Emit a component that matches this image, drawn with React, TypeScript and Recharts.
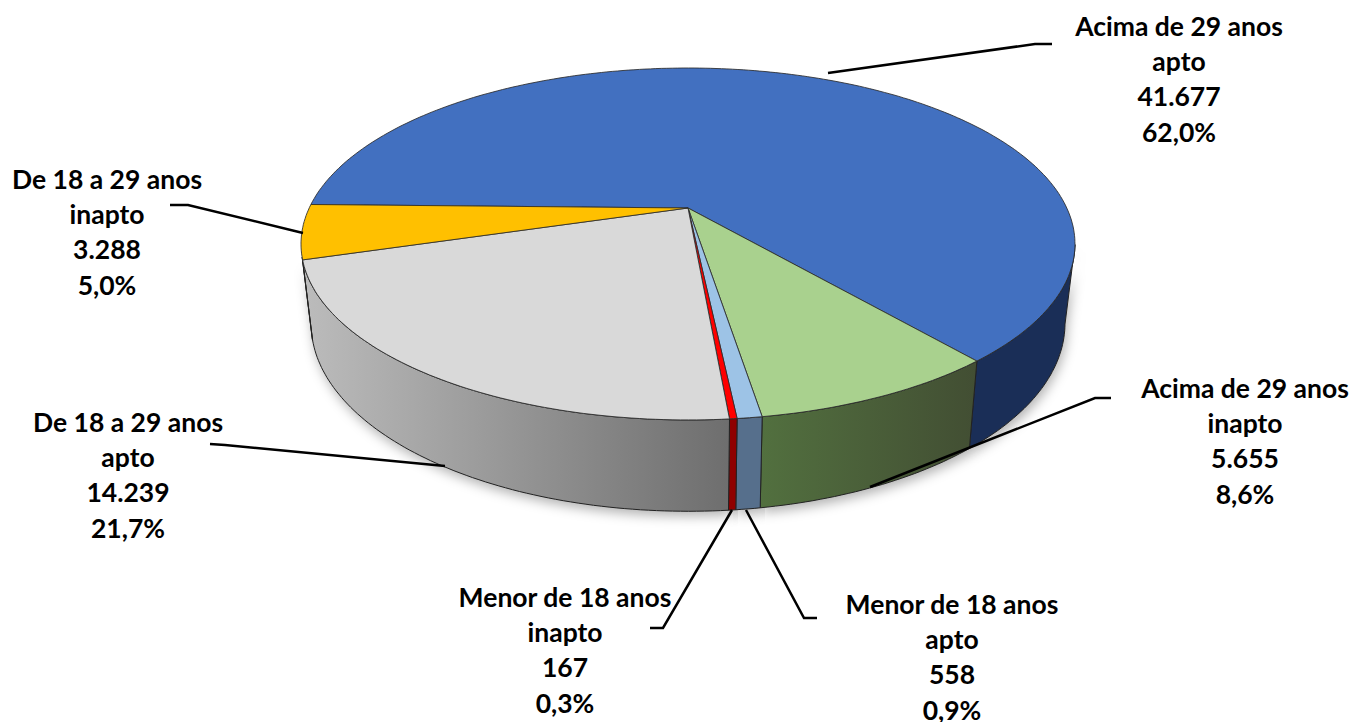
import { Pie, PieChart } from "recharts";

const categories = [
  "Acima de 29 anos",
  "Acima de 29 anos",
  "Menor de 18 anos",
  "Menor de 18 anos",
  "De 18 a 29 anos",
  "De 18 a 29 anos",
];
const statuses = ["apto", "inapto", "apto", "inapto", "apto", "inapto"];
const counts = [41677, 5655, 558, 167, 14239, 3288];
const percentLabels = ["62,0%", "8,6%", "0,9%", "0,3%", "21,7%", "5,0%"];

const topColors = ["#4270c0", "#a9d18e", "#9dc3e6", "#ff0000", "#d9d9d9", "#ffc000"];
const wallFrom = ["#1a2e57", "#52703f", "#566f8c", "#8f0000", "#bcbcbc", "#8a6a00"];
const wallTo = ["#1a2e57", "#424e33", "#566f8c", "#8f0000", "#6e6e6e", "#8a6a00"];

// where each label block sits, and its elbow leader line
const labelCenters = [
  [1179, 26],
  [1245, 388],
  [952, 604],
  [565, 597],
  [128, 422],
  [107, 179],
];
const leaderLines = [
  "828,73 1035,44 1052,44",
  "870,487 1095,398 1111,398",
  "746,510 804,618 817,618",
  "732,510 663,628 650,628",
  "445,466 225,445 210,444",
  "303,233 188,205 170,205",
];

const LINE_STEP = 35.2;
const CX = 688;
const CY = 208;
const PERSPECTIVE = 0.2045;
const topDisc = { cy: CY, rx: 378.8, ry: 168.6 };
const bottomDisc = { cy: 285, rx: 369, ry: 180 };
// part of the rim that faces the viewer, in recharts degrees
const WALL_MAX = -12;
const WALL_MIN = -164;

const pieData = counts.map((value, i) => ({
  name: `${categories[i]} ${statuses[i]}`,
  value,
  fill: topColors[i],
  slice: i,
}));

function rimPoint(disc: { cy: number; rx: number; ry: number }, deg: number) {
  const rad = (deg * Math.PI) / 180;
  const x = Math.cos(rad);
  const y = -Math.sin(rad);
  const w = 1 - PERSPECTIVE * y;
  return `${(CX + (disc.rx * x) / w).toFixed(1)},${(disc.cy + (disc.ry * y) / w).toFixed(1)}`;
}

function rimArc(disc: { cy: number; rx: number; ry: number }, from: number, to: number) {
  const n = Math.max(2, Math.ceil(Math.abs(from - to)));
  const pts: string[] = [];
  for (let i = 0; i <= n; i++) pts.push(rimPoint(disc, from + ((to - from) * i) / n));
  return pts;
}

function wallPoints(props: any) {
  const hi = Math.min(props.startAngle, WALL_MAX);
  const lo = Math.max(props.endAngle, WALL_MIN);
  if (hi <= lo) return null;
  return [...rimArc(topDisc, hi, lo), ...rimArc(bottomDisc, lo, hi)].join(" ");
}

function ShadowShape(props: any) {
  const points = wallPoints(props);
  if (!points) return <g />;
  return <polygon points={points} fill="#000" fillOpacity={0.3} filter="url(#wallShadow)" />;
}

function WallShape(props: any) {
  const points = wallPoints(props);
  if (!points) return <g />;
  return (
    <polygon
      points={points}
      fill={`url(#wall${props.payload.slice})`}
      stroke="#222"
      strokeWidth={1}
      strokeLinejoin="round"
    />
  );
}

function TopShape(props: any) {
  const points = [`${CX},${CY}`, ...rimArc(topDisc, props.startAngle, props.endAngle)].join(" ");
  return (
    <polygon
      points={points}
      fill={props.payload.fill}
      stroke="#2b2b2b"
      strokeWidth={1}
      strokeOpacity={0.85}
      strokeLinejoin="round"
    />
  );
}

function SliceLabel({ index }: { index: number }) {
  const [x, y] = labelCenters[index];
  const lines = [
    categories[index],
    statuses[index],
    counts[index].toLocaleString("pt-BR"),
    percentLabels[index],
  ];
  return (
    <g>
      <polyline points={leaderLines[index]} fill="none" stroke="#000" strokeWidth={2.5} />
      <text
        textAnchor="middle"
        fontFamily="Lato"
        fontWeight={700}
        fontSize={26.5}
        fill="#000"
      >
        {lines.map((line, i) => (
          <tspan key={i} x={x} y={y + i * LINE_STEP} dominantBaseline="central">
            {line}
          </tspan>
        ))}
      </text>
    </g>
  );
}

const pieProps = {
  data: pieData,
  dataKey: "value",
  cx: CX,
  cy: CY,
  outerRadius: 170,
  startAngle: 178.8,
  endAngle: -181.2,
  paddingAngle: 0,
  isAnimationActive: false,
};

export default function App() {
  return (
    <div style={{ position: "absolute", left: 0, top: 0, width: 1352, height: 722, background: "#fff" }}>
      <PieChart width={1352} height={722} margin={{ top: 0, right: 0, bottom: 0, left: 0 }}>
        <defs>
          <filter id="wallShadow" x="-10%" y="-10%" width="120%" height="130%">
            <feOffset dx="2" dy="5" />
            <feGaussianBlur stdDeviation="6" />
          </filter>
          {wallFrom.map((from, i) => (
            <linearGradient key={i} id={`wall${i}`} x1="0" y1="0" x2="1" y2="0">
              <stop offset="0%" stopColor={from} />
              <stop offset="100%" stopColor={wallTo[i]} />
            </linearGradient>
          ))}
        </defs>
        <Pie {...pieProps} shape={ShadowShape} />
        <Pie {...pieProps} shape={WallShape} />
        <Pie {...pieProps} shape={TopShape} labelLine={false} label={SliceLabel as any} />
      </PieChart>
    </div>
  );
}
